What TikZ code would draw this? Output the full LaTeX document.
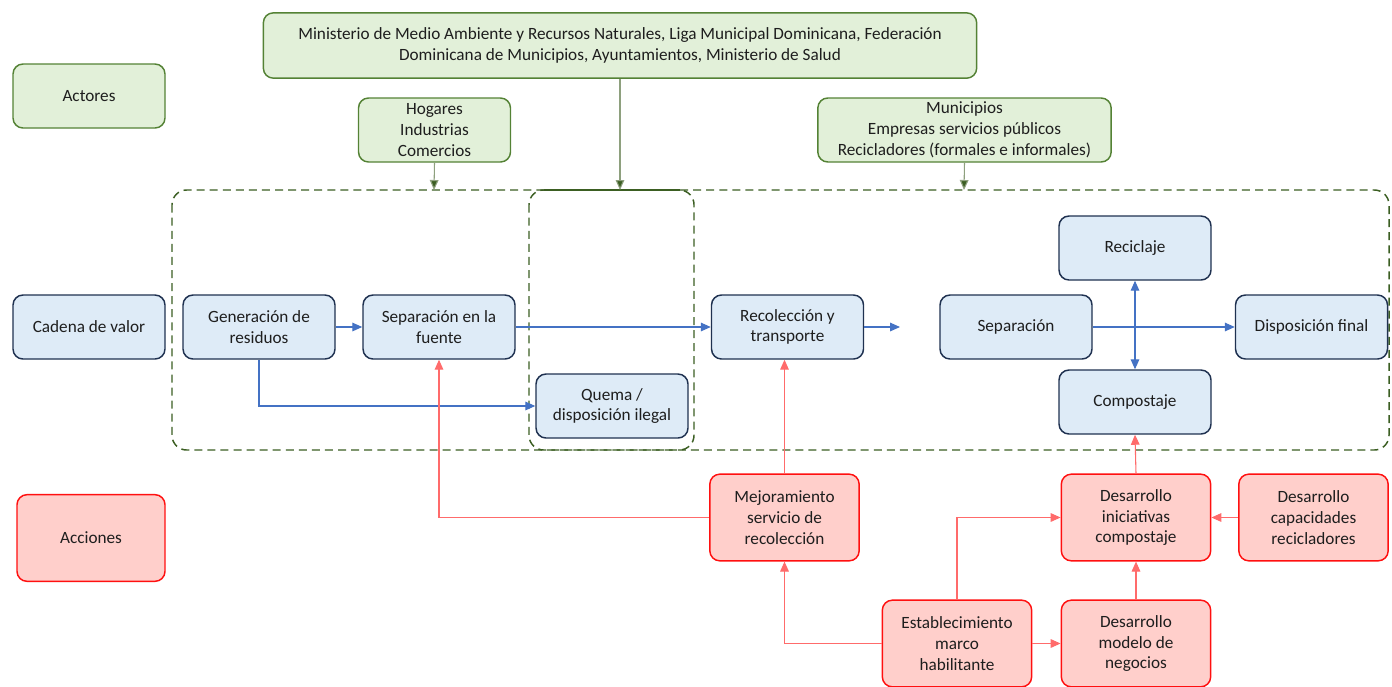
\documentclass[tikz,border=0pt]{standalone}
\usepackage{fontspec}
\setmainfont{Carlito}
\usepackage{tikz}
\usetikzlibrary{arrows.meta, calc}

\definecolor{actfill}{HTML}{E2F0D9}
\definecolor{actline}{HTML}{548235}
\definecolor{darkgreen}{HTML}{3B5E22}
\definecolor{greyline}{HTML}{8EA07E}
\definecolor{valfill}{HTML}{DEEBF7}
\definecolor{valline}{HTML}{1F3150}
\definecolor{accfill}{HTML}{FFCFCB}
\definecolor{accline}{HTML}{FF1010}
\definecolor{bluearrow}{HTML}{4472C4}
\definecolor{redarrow}{HTML}{FF6B6B}
\definecolor{txt}{HTML}{1E1E1E}

\tikzset{
	box/.style={rounded corners=7.5pt, align=center, text=txt, line width=1.1pt,
		font=\fontsize{12.9}{15.6}\selectfont, inner sep=2pt},
	actor/.style={box, draw=actline, fill=actfill, minimum width=114pt, minimum height=48pt},
	chain/.style={box, draw=valline, fill=valfill, minimum width=114pt, minimum height=48pt},
	action/.style={box, draw=accline, fill=accfill, minimum width=112pt, minimum height=65pt},
	bluearr/.style={draw=bluearrow, line width=0.8pt, -{Triangle[length=7.5pt,width=6.5pt]}},
	redarr/.style={draw=redarrow, line width=0.8pt, -{Triangle[length=7.5pt,width=6.5pt]}},
	greenarr/.style={draw=greyline, line width=0.8pt, -{Triangle[length=7.5pt,width=6.5pt,fill=darkgreen]}},
	stage/.style={draw=darkgreen, line width=1.1pt, dash pattern=on 6pt off 3.8pt, rounded corners=11pt}
}

\begin{document}
\begin{tikzpicture}[x=0.75pt, y=-0.75pt]
		\useasboundingbox (0,0) rectangle (1392,686);

		\draw[stage] (172,190) rectangle (1389,450);
		\draw[stage] (529,190) rectangle (694,450);
		\draw[draw=darkgreen, line width=1.1pt] (544,190) -- (680,190);

		\node[actor] (actores) at (89,96) {Actores};
		\node[actor, minimum width=535pt, minimum height=49pt] (ministerio) at (620,45.5) {Ministerio de Medio Ambiente y Recursos Naturales, Liga Municipal Dominicana, Federación\\Dominicana de Municipios, Ayuntamientos, Ministerio de Salud};
		\node[actor] (hogares) at (434.5,130) {Hogares\\Industrias\\Comercios};
		\node[actor, minimum width=220pt] (municipios) at (964.5,130) {Municipios\\Empresas servicios públicos\\Recicladores (formales e informales)};

		\coordinate (tophog) at (434,190);
		\coordinate (topmin) at (620,190);
		\coordinate (topmun) at (964,190);
		\draw[greenarr] (hogares.south) -- (tophog);
		\draw[greenarr] (ministerio.south) -- (topmin);
		\draw[greenarr] (municipios.south) -- (topmun);

		\node[chain] (cadena) at (89,327) {Cadena de valor};
		\node[chain] (generacion) at (259,327) {Generación de\\residuos};
		\node[chain] (fuente) at (439,327) {Separación en la\\fuente};
		\node[chain] (quema) at (612,406) {Quema /\\disposición ilegal};
		\node[chain] (recoleccion) at (787.5,327) {Recolección y\\transporte};
		\node[chain] (separacion) at (1016,327) {Separación};
		\node[chain] (reciclaje) at (1135,248) {Reciclaje};
		\node[chain] (compostaje) at (1135,402) {Compostaje};
		\node[chain] (disposicion) at (1311.5,327) {Disposición final};

		\coordinate (recofin) at (900,327);
		\draw[bluearr] (generacion) -- (fuente);
		\draw[bluearr] (fuente) -- (recoleccion);
		\draw[bluearr] (generacion.south) |- (quema.west);
		\draw[bluearr] (recoleccion.east) -- (recofin);
		\draw[bluearr] (separacion) -- (disposicion);
		\draw[bluearr, {Triangle[length=7.5pt,width=6.5pt]}-{Triangle[length=7.5pt,width=6.5pt]}] (reciclaje) -- (compostaje);

		\node[action, minimum width=111pt] (acciones) at (91,538) {Acciones};
		\node[action] (mejora) at (784.5,517.5) {Mejoramiento\\servicio de\\recolección};
		\node[action] (iniciativas) at (1136,517.5) {Desarrollo\\iniciativas\\compostaje};
		\node[action] (capacidades) at (1313.5,517.5) {Desarrollo\\capacidades\\recicladores};
		\node[action] (marco) at (957,643.5) {Establecimiento\\marco\\habilitante};
		\node[action] (modelo) at (1136,643.5) {Desarrollo\\modelo de\\negocios};

		\draw[redarr] (mejora.west) -| (fuente.south);
		\draw[redarr] (mejora.north) -- (mejora.north |- recoleccion.south);
		\draw[redarr] (marco.west) -| (mejora.south);
		\draw[redarr] (marco.north) |- (iniciativas.west);
		\draw[redarr] (marco) -- (modelo);
		\draw[redarr] (modelo) -- (iniciativas);
		\draw[redarr] (capacidades) -- (iniciativas);
		\draw[redarr] (iniciativas.north) -- (compostaje.south);
	\end{tikzpicture}
\end{document}
